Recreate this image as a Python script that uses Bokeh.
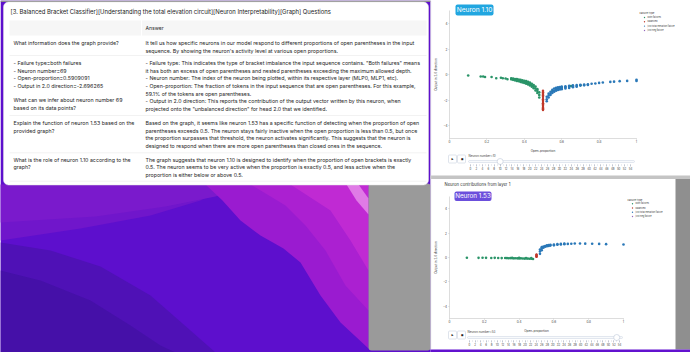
from bokeh.plotting import figure
from bokeh.models import Range1d, LinearAxis, FixedTicker, CustomJSTickFormatter
from bokeh.core.properties import value
from bokeh.embed import file_html
from bokeh.resources import INLINE

W, H = 690, 352
FONT = value("Inter")

# ------------------------------------------------------------------ text data
TITLE = "[3. Balanced Bracket Classifier][Understanding the total elevation circuit][Neuron Interpretability][Graph] Questions"
HEADER = "Answer"
LEFT_COL = [
    ["What information does the graph provide?"],
    ["- Failure type=both failures", "- Neuron number=69", "- Open-proportion=0.5909091",
     "- Output in 2.0 direction=-2.696265", "What can we infer about neuron number 69",
     "based on its data points?"],
    ["Explain the function of neuron 1.53 based on the", "provided graph?"],
    ["What is the role of neuron 1.10 according to the", "graph?"],
]
RIGHT_COL = [
    ["It tell us how specific neurons in our model respond to different proportions of open parentheses in the input",
     "sequence. By showing the neuron's activity level at various open proportions."],
    ["- Failure type: This indicates the type of bracket imbalance the input sequence contains. \"Both failures\" means",
     "it has both an excess of open parentheses and nested parentheses exceeding the maximum allowed depth.",
     "- Neuron number: The index of the neuron being plotted, within its respective layer (MLP0, MLP1, etc).",
     "- Open-proportion: The fraction of tokens in the input sequence that are open parentheses. For this example,",
     "59.1% of the tokens are open parentheses.",
     "- Output in 2.0 direction: This reports the contribution of the output vector written by this neuron, when",
     "projected onto the \"unbalanced direction\" for head 2.0 that we identified."],
    ["Based on the graph, it seems like neuron 1.53 has a specific function of detecting when the proportion of open",
     "parentheses exceeds 0.5. The neuron stays fairly inactive when the open proportion is less than 0.5, but once",
     "the proportion surpasses that threshold, the neuron activates significantly. This suggests that the neuron is",
     "designed to respond when there are more open parentheses than closed ones in the sequence."],
    ["The graph suggests that neuron 1.10 is designed to identify when the proportion of open brackets is exactly",
     "0.5. The neuron seems to be very active when the proportion is exactly 0.5, and less active when the",
     "proportion is either below or above 0.5."],
]

CHART1_BADGE = "Neuron 1.10"
CHART2_BADGE = "Neuron 1.53"
CHART2_TITLE = "Neuron contributions from layer 1"
X_LABEL = "Open-proportion"
Y_LABEL = "Output in 2.0 direction"
LEGEND_TITLE = "Failure type"
LEGEND_ITEMS = ["both failures", "balanced", "just total elevation failure", "just neg failure"]
LEGEND_COLORS = ["#2a9468", "#c0392b", "#2a78b8", "#9467bd"]
X_TICKS = [0, 0.2, 0.4, 0.6, 0.8, 1]
Y_TICKS = [-4, -2, 0, 2, 4]
SLIDER_TICKS = [0, 2, 4, 6, 8, 10, 12, 14, 16, 18, 20, 22, 24, 26, 28, 30, 32, 34, 36, 38,
                40, 42, 44, 46, 48, 50, 52, 54]
SLIDER_MINOR = [0, 1, 2, 3, 4, 5, 6, 7, 8, 9, 10, 11, 12, 13, 14, 15, 16, 17, 18, 19, 20,
                21, 22, 23, 24, 25, 26, 27, 28, 29, 30, 31, 32, 33, 34, 35, 36, 37, 38, 39,
                40, 41, 42, 43, 44, 45, 46, 47, 48, 49, 50, 51, 52, 53, 54]
SLIDER1_VALUE = 10
SLIDER2_VALUE = 53

# ------------------------------------------------------------------ chart data
# Neuron 1.10
n110_both_x = [0.10, 0.167, 0.18, 0.19, 0.225, 0.25, 0.275, 0.285, 0.30, 0.31,
               0.33, 0.33, 0.34, 0.34, 0.35, 0.35, 0.35, 0.36, 0.36, 0.36, 0.37, 0.37, 0.37,
               0.38, 0.38, 0.38, 0.39, 0.39, 0.39, 0.40, 0.40, 0.40, 0.41, 0.41, 0.41,
               0.42, 0.42, 0.42, 0.43, 0.43, 0.43, 0.44, 0.44, 0.44, 0.45, 0.45, 0.45,
               0.46, 0.46, 0.46, 0.47, 0.47, 0.47, 0.48, 0.48, 0.48,
               0.55, 0.60, 0.65, 0.70]
n110_both_y = [-0.08, -0.16, -0.16, -0.20, -0.20, -0.29, -0.25, -0.30, -0.32, -0.37,
               -0.30, -0.38, -0.32, -0.42, -0.35, -0.40, -0.46, -0.36, -0.44, -0.50, -0.40, -0.48, -0.52,
               -0.42, -0.50, -0.58, -0.45, -0.55, -0.62, -0.50, -0.58, -0.66, -0.52, -0.62, -0.72,
               -0.58, -0.68, -0.78, -0.64, -0.74, -0.86, -0.72, -0.84, -0.96, -0.82, -0.95, -1.08,
               -0.95, -1.10, -1.25, -1.15, -1.30, -1.45, -1.40, -1.60, -1.80,
               -1.30, -1.02, -0.90, -0.84]
n110_bal_x = [0.5, 0.5, 0.5, 0.5, 0.5, 0.5, 0.5, 0.5, 0.5, 0.5, 0.5, 0.5, 0.5, 0.5, 0.5,
              0.5, 0.5, 0.5, 0.5, 0.5]
n110_bal_y = [-1.28, -1.35, -1.40, -1.50, -1.58, -1.62, -1.75, -1.85, -1.95, -2.05, -2.15,
              -2.25, -2.30, -2.35, -2.45, -2.55, -2.60, -2.65, -2.72, -2.78]
n110_elev_x = [0.52, 0.52, 0.52, 0.53, 0.53, 0.53, 0.54, 0.54, 0.54, 0.55, 0.55, 0.55,
               0.56, 0.56, 0.56, 0.57, 0.57, 0.57, 0.58, 0.58, 0.58, 0.59, 0.59, 0.59,
               0.60, 0.60, 0.60, 0.62, 0.62, 0.62, 0.64, 0.64, 0.64, 0.66, 0.66, 0.66,
               0.68, 0.68, 0.68, 0.70, 0.70, 0.72, 0.72, 0.74, 0.74,
               0.76, 0.78, 0.80, 0.82, 0.86, 0.88, 0.91, 0.95, 1.0, 1.0]
n110_elev_y = [-1.75, -1.95, -2.10, -1.50, -1.65, -1.80, -1.35, -1.50, -1.60, -1.20, -1.35, -1.45,
               -1.10, -1.25, -1.35, -1.05, -1.18, -1.28, -1.00, -1.12, -1.22, -0.98, -1.08, -1.18,
               -0.95, -1.05, -1.15, -0.92, -1.00, -1.10, -0.88, -0.96, -1.05, -0.85, -0.93, -1.00,
               -0.82, -0.90, -0.96, -0.80, -0.87, -0.78, -0.85, -0.76, -0.82,
               -0.72, -0.70, -0.66, -0.63, -0.58, -0.56, -0.52, -0.50, -0.42, -0.50]

# Neuron 1.53
n153_both_x = [0.10, 0.167, 0.19, 0.21, 0.24, 0.26, 0.28, 0.30, 0.32,
               0.33, 0.34, 0.35, 0.36, 0.37, 0.38, 0.39, 0.40, 0.41, 0.42, 0.43, 0.44,
               0.45, 0.46, 0.47, 0.48, 0.36, 0.40, 0.44, 0.47]
n153_both_y = [-0.02, -0.03, -0.02, -0.03, -0.04, -0.03, -0.04, -0.05, -0.04,
               -0.05, -0.06, -0.05, -0.06, -0.07, -0.06, -0.07, -0.08, -0.07, -0.08, -0.09, -0.08,
               -0.09, -0.10, -0.10, -0.12, -0.02, -0.03, -0.04, -0.05]
n153_bal_x = [0.5, 0.5, 0.5, 0.5, 0.5]
n153_bal_y = [0.05, 0.10, 0.15, 0.20, 0.25]
n153_elev_x = [0.52, 0.52, 0.52, 0.53, 0.53, 0.53, 0.54, 0.54, 0.55, 0.55, 0.56, 0.56,
               0.57, 0.57, 0.58, 0.58, 0.60, 0.60, 0.62, 0.62, 0.64, 0.64, 0.66, 0.66,
               0.68, 0.70, 0.72, 0.75, 0.78, 0.82, 0.86, 0.90, 1.0]
n153_elev_y = [0.30, 0.50, 0.65, 0.60, 0.75, 0.85, 0.80, 0.90, 0.88, 0.95, 0.92, 1.00,
               0.95, 1.02, 0.98, 1.05, 1.00, 1.07, 1.05, 1.10, 1.07, 1.12, 1.10, 1.14,
               1.12, 1.13, 1.15, 1.15, 1.14, 1.13, 1.12, 1.10, 1.07]

# ------------------------------------------------------------------ canvas
p = figure(width=W, height=H, x_range=Range1d(0, W), y_range=Range1d(H, 0),
           x_axis_type=None, y_axis_type=None, min_border=0,
           toolbar_location=None, output_backend="svg")
p.outline_line_color = None
p.grid.visible = False
p.background_fill_color = "white"
p.border_fill_color = "white"


def lin(v0, p0, v1, p1, pa, pb):
    k = (v1 - v0) / (p1 - p0)
    return Range1d(start=v0 + (pa - p0) * k, end=v0 + (pb - p0) * k)


p.extra_x_ranges = {
    "c1x": lin(0, 449, 1, 636, 0, W),
    "c2x": lin(0, 449, 1, 623, 0, W),
    "s1x": lin(0, 470, 54, 630, 0, W),
    "s2x": lin(0, 469, 54, 619, 0, W),
}
p.extra_y_ranges = {
    "c1y": lin(0, 74, 2, 48.5, H, 0),
    "c2y": lin(0, 257, 2, 232.7, H, 0),
}


def txt(xs, ys, texts, size, color="#1e1e1e", align="left", style="normal", angle=0):
    p.text(x=xs, y=ys, text=texts, text_font=FONT, text_font_size=size, text_color=color,
           text_align=align, text_baseline="middle", text_font_style=style, angle=angle)


# ---- purple desktop background (left part)
p.quad(left=0, right=430, top=0, bottom=H, fill_color="#5d0fcd", line_color=None)
p.patch([0, 230, 200, 150, 80, 0], [184, 184, 200, 215, 228, 240], fill_color="#7016cb", line_color=None)
p.patch([0, 250, 215, 165, 95, 0], [184, 184, 196, 206, 216, 222], fill_color="#7a1acc", line_color=None)
p.patch([0, 50, 100, 150, 190, 215, 0], [242, 250, 266, 295, 330, 352, 352], fill_color="#4f11b6", line_color=None)
p.patch([0, 40, 90, 130, 160, 175, 0], [270, 280, 300, 325, 345, 352, 352], fill_color="#4510a8", line_color=None)
p.patch([205, 368, 368, 340, 320, 300, 283, 260, 240, 222],
        [184, 184, 348, 322, 295, 262, 248, 235, 220, 200], fill_color="#9a1bd0", line_color=None)
p.patch([250, 368, 368, 345, 325, 305, 285],
        [184, 184, 310, 285, 250, 225, 205], fill_color="#ab20d1", line_color=None)
p.patch([290, 368, 368, 350, 330], [184, 184, 270, 240, 210], fill_color="#c02ad3", line_color=None)
p.patch([346, 358, 368, 368, 356], [184, 184, 198, 214, 200], fill_color="#e07be6", line_color=None)
# grey window behind
p.quad(left=368, right=430, top=183, bottom=350, fill_color="#9a9a9a", line_color=None, border_radius=3)

# ---- top bar and table card
p.quad(left=0, right=430, top=0, bottom=1.5, fill_color="#8c8c8c", line_color=None)
p.quad(left=3, right=428, top=1.5, bottom=184.5, fill_color="white", line_color="#e2e2e2",
       line_width=0.5, border_radius=5)
txt([10], [11], [TITLE], "5.9px", color="#1a1a1a")
p.quad(left=[9, 141.5], right=[140.5, 426], top=[20, 20], bottom=[35, 35],
       fill_color="#f6f6f6", line_color=None)
txt([145], [27.5], [HEADER], "5.1px", color="#2a2a2a")
p.segment(x0=[9] * 4, x1=[426] * 4, y0=[55, 115, 152.3, 180.7], y1=[55, 115, 152.3, 180.7],
          line_color="#ececec", line_width=0.7)

left_line_y = [
    [42],
    [62, 70, 77.8, 85.4, 99.3, 107.3],
    [122.3, 130],
    [159, 166.7],
]
right_line_y = [
    [42, 50],
    [62, 70, 77.8, 85.4, 93, 100.4, 108],
    [122.3, 130, 137.7, 145.2],
    [159, 166.7, 174.3],
]
for lines, ys in zip(LEFT_COL, left_line_y):
    txt([13] * len(lines), ys, lines, "5.3px")
for lines, ys in zip(RIGHT_COL, right_line_y):
    txt([145] * len(lines), ys, lines, "5.25px")

# ---- right panels
p.quad(left=430, right=690, top=175, bottom=178.5, fill_color="#c4c4c4", line_color=None)
p.quad(left=675, right=690, top=178.5, bottom=349, fill_color="#8f8f8f", line_color=None)
p.quad(left=430, right=690, top=349, bottom=352, fill_color="#6212cf", line_color=None)
p.segment(x0=[430.3], x1=[430.3], y0=[0], y1=[349], line_color="#dcdcdc", line_width=0.6)

fmt = CustomJSTickFormatter(code="var s = (Math.round(tick*10)/10).toString(); return s.replace('-', '\\u2212');")


def style_axis(ax, size="3.1px"):
    ax.axis_line_color = "#cfcfcf"
    ax.axis_line_width = 0.7
    ax.major_tick_line_color = "#cfcfcf"
    ax.major_tick_out = 1
    ax.major_tick_in = 0
    ax.minor_tick_line_color = None
    ax.major_label_text_font_size = size
    ax.major_label_text_color = "#444444"
    ax.major_label_text_font = "Inter"
    ax.major_label_standoff = 1
    ax.axis_label_text_font_size = size
    ax.axis_label_text_font_style = "normal"
    ax.axis_label_text_color = "#333333"
    ax.axis_label_text_font = "Inter"
    ax.axis_label_standoff = 2


def chart(xr, yr, x_px_axis, y_px_axis, both_x, both_y, bal_x, bal_y, el_x, el_y):
    ax = LinearAxis(x_range_name=xr, fixed_location=y_px_axis, bounds=(0, 1),
                    ticker=FixedTicker(ticks=X_TICKS), formatter=fmt, axis_label=X_LABEL)
    style_axis(ax)
    p.add_layout(ax, "below")
    ay = LinearAxis(y_range_name=yr, fixed_location=x_px_axis, bounds=(-5, 5),
                    ticker=FixedTicker(ticks=Y_TICKS), formatter=fmt, axis_label=Y_LABEL)
    style_axis(ay)
    p.add_layout(ay, "left")
    p.scatter(both_x, both_y, x_range_name=xr, y_range_name=yr, size=2.6,
              fill_color=LEGEND_COLORS[0], line_color=None)
    p.scatter(el_x, el_y, x_range_name=xr, y_range_name=yr, size=2.6,
              fill_color=LEGEND_COLORS[2], line_color=None)
    p.scatter(bal_x, bal_y, x_range_name=xr, y_range_name=yr, size=2.4,
              fill_color=LEGEND_COLORS[1], line_color=None)


def legend(x0, ys):
    txt([x0], [ys[0]], [LEGEND_TITLE], "2.7px", color="#333333")
    p.scatter([x0 + 5] * 4, ys[1:], size=1.4, fill_color=LEGEND_COLORS, line_color=None)
    txt([x0 + 8] * 4, ys[1:], LEGEND_ITEMS, "2.3px", color="#444444")


def slider(sr, y_rail, y_axis, x0, x1, val, label, y_label):
    p.quad(left=[448, 457], right=[456, 465], top=[y_label - 0.5] * 2, bottom=[y_label + 7.5] * 2,
           fill_color="white", line_color="#bec8d9", line_width=0.5, border_radius=1)
    txt([452, 461], [y_label + 3.5] * 2, ["\u25B6", "\u25FC"], "2.6px", color="#222222", align="center")
    txt([x0], [y_label], [label], "3px", color="#444444")
    p.quad(left=x0, right=x1, top=y_rail - 1, bottom=y_rail + 1, fill_color="#f8fafc",
           line_color="#bec8d9", line_width=0.4, border_radius=1)
    a = LinearAxis(x_range_name=sr, fixed_location=y_axis, bounds=(0, 54),
                   ticker=FixedTicker(ticks=SLIDER_TICKS, minor_ticks=SLIDER_MINOR))
    a.axis_line_color = None
    a.major_tick_line_color = "#9aa3b5"
    a.major_tick_line_width = 0.5
    a.major_tick_out = 2
    a.major_tick_in = 0
    a.minor_tick_line_color = "#9aa3b5"
    a.minor_tick_line_width = 0.4
    a.minor_tick_out = 1
    a.minor_tick_in = 0
    a.major_label_text_font_size = "2.8px"
    a.major_label_text_color = "#444444"
    a.major_label_text_font = "Inter"
    a.major_label_standoff = 1
    p.add_layout(a, "below")
    p.scatter([val], [y_rail], x_range_name=sr, size=6, fill_color="white",
              line_color="#bec8d9", line_width=0.6)


# ---- chart 1 (Neuron 1.10)
chart("c1x", "c1y", 449, 137.75, n110_both_x, n110_both_y, n110_bal_x, n110_bal_y,
      n110_elev_x, n110_elev_y)
p.quad(left=455, right=493, top=4, bottom=15, fill_color="#21a6e0", line_color=None, border_radius=2)
txt([474], [9.7], [CHART1_BADGE], "6.6px", color="white", align="center")
legend(639, [12, 17, 21.3, 25.6, 30])
slider("s1x", 161, 163.5, 468, 634, SLIDER1_VALUE, "Neuron number=" + str(SLIDER1_VALUE), 155)

# ---- chart 2 (Neuron 1.53)
txt([444], [184], [CHART2_TITLE], "4.2px", color="#333333")
chart("c2x", "c2y", 448.5, 317.5, n153_both_x, n153_both_y, n153_bal_x, n153_bal_y,
      n153_elev_x, n153_elev_y)
p.quad(left=454, right=491, top=191, bottom=200.5, fill_color="#6b4fdc", line_color=None, border_radius=2)
txt([472.5], [195.8], [CHART2_BADGE], "6.3px", color="white", align="center")
legend(627, [199, 203.3, 207.5, 211.8, 216])
slider("s2x", 337, 339.5, 467, 622, SLIDER2_VALUE, "Neuron number=" + str(SLIDER2_VALUE), 331)

open("out.html", "w").write(file_html(p, INLINE))
